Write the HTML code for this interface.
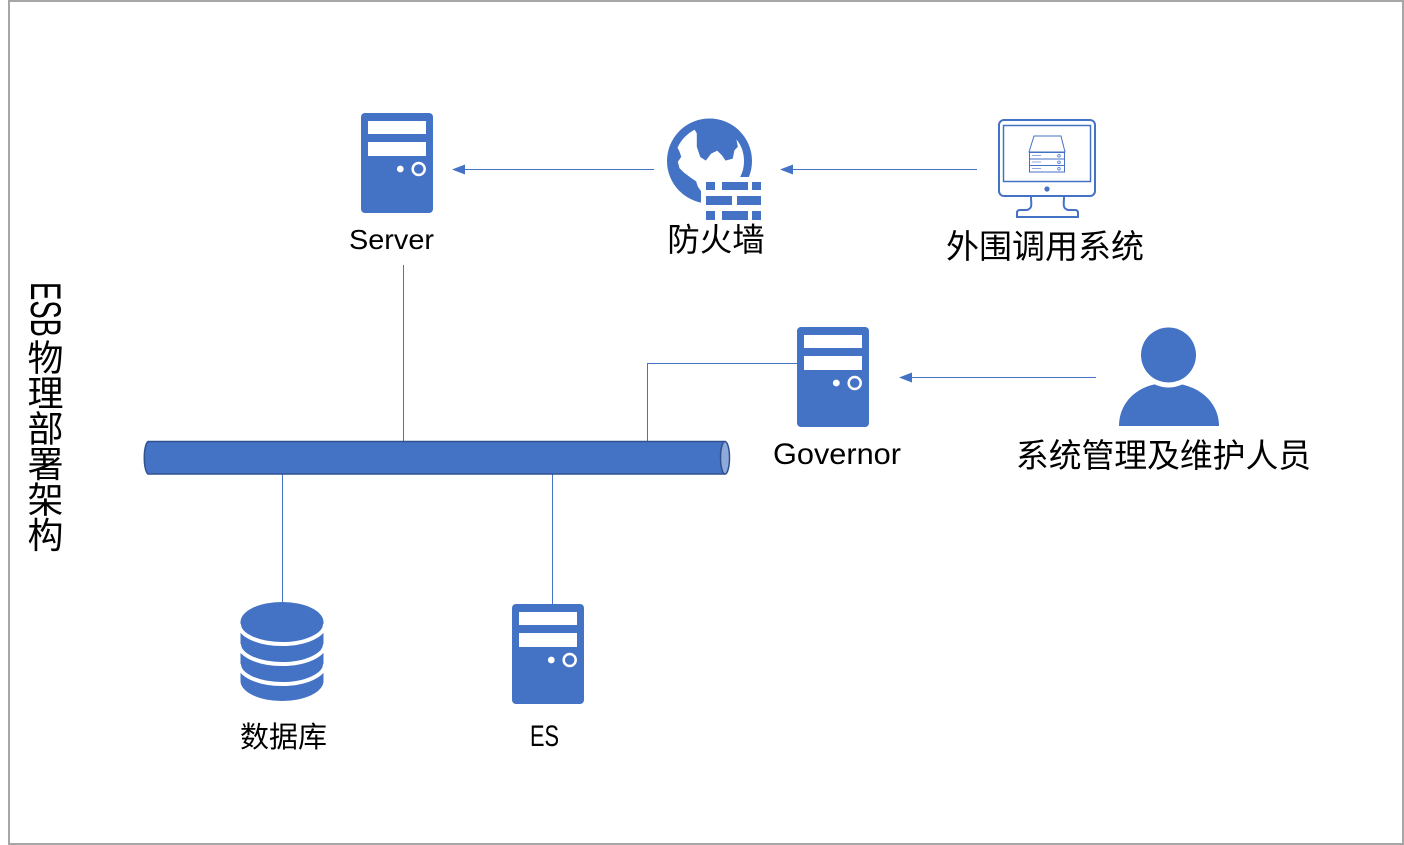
<!DOCTYPE html>
<html>
<head>
<meta charset="utf-8">
<style>
  html, body { margin:0; padding:0; background:#fff; }
  body { width:1404px; height:845px; position:relative; overflow:hidden; }
  svg { position:absolute; left:0; top:0; }
</style>
</head>
<body>
<svg width="1404" height="845" viewBox="0 0 1404 845" xmlns="http://www.w3.org/2000/svg">
  <defs>
    <clipPath id="globeClip"><circle cx="709.5" cy="161" r="40"/></clipPath>
  </defs>
  <!-- frame -->
  <rect x="9" y="1" width="1394" height="843" fill="#fff" stroke="#a6a6a6" stroke-width="2"/>

  <!-- vertical title -->
  <text transform="translate(31,282) rotate(90)" font-family="Liberation Sans, sans-serif" font-size="43" textLength="55" lengthAdjust="spacingAndGlyphs" fill="#000">ESB</text>
  <g font-family="Liberation Sans, 'Noto Sans CJK SC', sans-serif" font-size="36" fill="#000" text-anchor="middle" dominant-baseline="central">
    <text x="45.5" y="358">物</text>
    <text x="45.5" y="393.5">理</text>
    <text x="45.5" y="429">部</text>
    <text x="45.5" y="464.5">署</text>
    <text x="45.5" y="500">架</text>
    <text x="45.5" y="535.5">构</text>
  </g>

  <!-- connector lines -->
  <g stroke="#4472c4" stroke-width="1" fill="none">
    <line x1="403.5" y1="265" x2="403.5" y2="442"/>
    <polyline points="647.5,442 647.5,363.5 797,363.5"/>
    <line x1="282.5" y1="474" x2="282.5" y2="603"/>
    <line x1="552.5" y1="474" x2="552.5" y2="604"/>
    <line x1="464" y1="169.5" x2="654" y2="169.5"/>
    <line x1="792" y1="169.5" x2="977" y2="169.5"/>
    <line x1="911" y1="377.5" x2="1096" y2="377.5"/>
  </g>
  <g fill="#4472c4">
    <polygon points="452,169.5 465,164.5 465,174.5"/>
    <polygon points="780,169.5 793,164.5 793,174.5"/>
    <polygon points="899,377.5 912,372.5 912,382.5"/>
  </g>

  <!-- bus cylinder -->
  <path d="M148,441.5 H725 A5,16.5 0 0 1 725,474 H148 A4.5,16.5 0 0 1 148,441.5 Z" fill="#4472c4" stroke="#2f528f" stroke-width="1.5"/>
  <ellipse cx="725" cy="457.75" rx="4.5" ry="16.25" fill="#8eaadb" stroke="#2f528f" stroke-width="1.5"/>

  <!-- server icons -->
  <g transform="translate(361,113)">
    <rect width="72" height="100" rx="4" fill="#4472c4"/>
    <rect x="7" y="8" width="58" height="13" fill="#fff"/>
    <rect x="7" y="29" width="58" height="14" fill="#fff"/>
    <circle cx="39.3" cy="56" r="3.4" fill="#fff"/>
    <circle cx="57.7" cy="56" r="6" fill="none" stroke="#fff" stroke-width="2.5"/>
  </g>
  <g transform="translate(797,327)">
    <rect width="72" height="100" rx="4" fill="#4472c4"/>
    <rect x="7" y="8" width="58" height="13" fill="#fff"/>
    <rect x="7" y="29" width="58" height="14" fill="#fff"/>
    <circle cx="39.3" cy="56" r="3.4" fill="#fff"/>
    <circle cx="57.7" cy="56" r="6" fill="none" stroke="#fff" stroke-width="2.5"/>
  </g>
  <g transform="translate(512,604)">
    <rect width="72" height="100" rx="4" fill="#4472c4"/>
    <rect x="7" y="8" width="58" height="13" fill="#fff"/>
    <rect x="7" y="29" width="58" height="14" fill="#fff"/>
    <circle cx="39.3" cy="56" r="3.4" fill="#fff"/>
    <circle cx="57.7" cy="56" r="6" fill="none" stroke="#fff" stroke-width="2.5"/>
  </g>

  <!-- firewall globe -->
  <g>
    <g clip-path="url(#globeClip)">
      <!-- top continent -->
      <path d="M688,115 L745,115 L736,130 L732.3,133.3 L735.7,138.3 L737.3,146.7 L734,150 L732.3,158.3 L725.7,160 L722.3,155 L717.3,150 L710.7,153.3 L705.7,160 L700.7,156.7 L697.3,146.7 L697.3,133.3 L693,126 Z" fill="#4472c4" stroke="#4472c4" stroke-width="1" stroke-linejoin="round"/>
      <!-- left landmass -->
      <path d="M665,138 L675.7,145 L679,151.7 L680.7,156.7 L677.3,161.7 L679,168.3 L684,173.3 L690.7,178.3 L695.7,181.7 L697.3,186.7 L700.7,191.7 L702,210 L680,205 L664,180 Z" fill="#4472c4" stroke="#4472c4" stroke-width="1" stroke-linejoin="round"/>
    </g>
    <circle cx="709.5" cy="161" r="38.5" fill="none" stroke="#4472c4" stroke-width="8"/>
    <!-- brick knockout -->
    <rect x="701" y="177" width="66" height="48" fill="#fff"/>
    <g fill="#4472c4">
      <rect x="706" y="182" width="9" height="8"/>
      <rect x="722" y="182" width="26" height="8"/>
      <rect x="752" y="182" width="9" height="8"/>
      <rect x="706" y="196" width="26" height="9"/>
      <rect x="737" y="196" width="24" height="9"/>
      <rect x="706" y="211" width="9" height="9"/>
      <rect x="722" y="211" width="26" height="9"/>
      <rect x="752" y="211" width="9" height="9"/>
    </g>
  </g>

  <!-- monitor -->
  <g stroke="#4472c4" fill="none">
    <rect x="999" y="120" width="96" height="76" rx="5" stroke-width="2"/>
    <rect x="1003.5" y="125.5" width="87" height="56" stroke-width="1.5"/>
    <path d="M1031,197 C1031,204 1033,208 1027,210 L1020,210 Q1017,210 1017,213 L1017,217 L1078,217 L1078,213 Q1078,210 1075,210 L1068,210 C1062,208 1064,204 1064,197" stroke-width="2"/>
    <path d="M1034,136 L1061,136 L1065,152 L1029,152 Z" stroke-width="1"/>
    <rect x="1029.5" y="152.5" width="35" height="6.5" stroke-width="1"/>
    <rect x="1029.5" y="159" width="35" height="6.5" stroke-width="1"/>
    <rect x="1029.5" y="165.5" width="35" height="6.5" stroke-width="1"/>
    <line x1="1032" y1="155.5" x2="1041" y2="155.5" stroke-width="1" stroke="#8eaadb"/>
    <line x1="1032" y1="162" x2="1041" y2="162" stroke-width="1" stroke="#8eaadb"/>
    <line x1="1032" y1="168.5" x2="1041" y2="168.5" stroke-width="1" stroke="#8eaadb"/>
    <circle cx="1059" cy="155.8" r="1.3" stroke-width="0.8"/>
    <circle cx="1059" cy="162.3" r="1.3" stroke-width="0.8"/>
    <circle cx="1059" cy="168.8" r="1.3" stroke-width="0.8"/>
  </g>
  <circle cx="1047" cy="189" r="2.6" fill="#4472c4"/>

  <!-- person -->
  <path d="M1119,426 C1119,402 1138,383 1168,383 C1198,383 1219,402 1219,426 Z" fill="#4472c4"/>
  <circle cx="1168.5" cy="355" r="32.5" fill="#fff"/>
  <circle cx="1168.5" cy="355" r="27.5" fill="#4472c4"/>

  <!-- database -->
  <path d="M240.5,622 A41.5,20 0 0 1 323.5,622 L323.5,681 A41.5,20 0 0 1 240.5,681 Z" fill="#4472c4"/>
  <g stroke="#fff" stroke-width="4" fill="none">
    <path d="M239,624 A43,20 0 0 0 325,624"/>
    <path d="M239,644 A43,20 0 0 0 325,644"/>
    <path d="M239,664 A43,20 0 0 0 325,664"/>
  </g>

  <!-- labels -->
  <g font-family="Liberation Sans, sans-serif" fill="#000" text-anchor="middle">
    <text x="391.5" y="249" font-size="28" textLength="85" lengthAdjust="spacingAndGlyphs">Server</text>
    <text x="837" y="464" font-size="29.5" textLength="128" lengthAdjust="spacingAndGlyphs">Governor</text>
    <text x="544.5" y="746" font-size="29.5" textLength="29" lengthAdjust="spacingAndGlyphs">ES</text>
  </g>
  <g font-family="Liberation Sans, 'Noto Sans CJK SC', sans-serif" fill="#000" text-anchor="middle" dominant-baseline="central">
    <text x="716" y="240" font-size="32.5">防火墙</text>
    <text x="1045" y="246.5" font-size="33">外围调用系统</text>
    <text x="1163.5" y="455.5" font-size="32.8">系统管理及维护人员</text>
    <text x="283.5" y="738" font-size="29">数据库</text>
  </g>
</svg>
</body>
</html>
